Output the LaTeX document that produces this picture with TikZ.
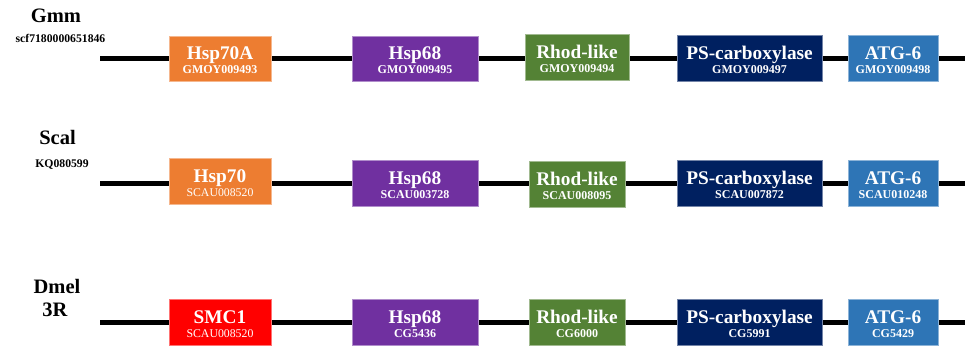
\documentclass[tikz,border=0pt]{standalone}
\usepackage{fontspec}
\setmainfont{Liberation Serif}
\definecolor{gorange}{HTML}{ED7D31}
\definecolor{gpurple}{HTML}{7030A0}
\definecolor{ggreen}{HTML}{548235}
\definecolor{gnavy}{HTML}{002060}
\definecolor{gblue}{HTML}{2E75B6}
\definecolor{gred}{HTML}{FF0000}
\tikzset{
  geneline/.style={line width=5pt, black},
  genebox/.style={rectangle, inner sep=0pt, line width=0.8pt},
  genetitle/.style={anchor=base, text=white, inner sep=0pt, font=\fontsize{19.3}{19.3}\selectfont\bfseries},
  geneid/.style={anchor=base, text=white, inner sep=0pt, font=\fontsize{12}{12}\selectfont\bfseries},
  geneidreg/.style={anchor=base, text=white, inner sep=0pt, font=\fontsize{11.8}{11.8}\selectfont},
  species/.style={anchor=base, inner sep=0pt, font=\fontsize{20.5}{20.5}\selectfont\bfseries},
  locus/.style={anchor=base, inner sep=0pt, font=\fontsize{11.7}{11.7}\selectfont\bfseries},
}
% #1 name, #2 x1, #3 x2, #4 y1, #5 y2, #6 colour, #7 title, #8 id, #9 id style
\newcommand{\genebx}[9]{%
  \node[genebox, fill=#6, draw=#6!55!white,
        minimum width={(#3-#2)*1pt}, minimum height={(#5-#4)*1pt}]
        (#1) at ({(#2+#3)/2},{(#4+#5)/2}) {};
  \node[genetitle] (#1t) at ([yshift=-1pt]#1.center) {#7};
  \node[#9] (#1i) at ([yshift=-15pt]#1.center) {#8};
}
\begin{document}
\begin{tikzpicture}[x=1pt,y=-1pt]
\useasboundingbox (0,0) rectangle (969,346);
% chromosome lines
\coordinate (l1s) at (100,58.5); \coordinate (l1e) at (965,58.5);
\coordinate (l2s) at (100,183);  \coordinate (l2e) at (965,183);
\coordinate (l3s) at (100,322);  \coordinate (l3e) at (965,322);
\draw[geneline] (l1s) -- (l1e);
\draw[geneline] (l2s) -- (l2e);
\draw[geneline] (l3s) -- (l3e);
% labels
\node[species] (gmm) at (56,22.5) {Gmm};
\node[locus] (scf) at (60.5,42) {scf7180000651846};
\node[species] (scal) at (57.5,144) {Scal};
\node[locus] (kq) at (62,167.5) {KQ080599};
\node[species] (dmel) at (57,293) {Dmel};
\node[species] (r3) at (55,316) {3R};
% row 1
\genebx{a1}{169}{271}{36}{81}{gorange}{Hsp70A}{GMOY009493}{geneid}
\genebx{a2}{352}{478}{36}{81}{gpurple}{Hsp68}{GMOY009495}{geneid}
\genebx{a3}{525}{629}{34}{80}{ggreen}{Rhod-like}{GMOY009494}{geneid}
\genebx{a4}{677}{822}{35}{81}{gnavy}{PS-carboxylase}{GMOY009497}{geneid}
\genebx{a5}{848}{938}{35}{81}{gblue}{ATG-6}{GMOY009498}{geneid}
% row 2
\genebx{b1}{169}{271}{158}{204}{gorange}{Hsp70}{SCAU008520}{geneidreg}
\genebx{b2}{352}{478}{160}{206}{gpurple}{Hsp68}{SCAU003728}{geneid}
\genebx{b3}{529}{625}{161}{207}{ggreen}{Rhod-like}{SCAU008095}{geneid}
\genebx{b4}{677}{822}{160}{206}{gnavy}{PS-carboxylase}{SCAU007872}{geneid}
\genebx{b5}{848}{938}{160}{206}{gblue}{ATG-6}{SCAU010248}{geneid}
% row 3
\genebx{c1}{169}{271}{299}{345}{gred}{SMC1}{SCAU008520}{geneidreg}
\genebx{c2}{352}{478}{299}{345}{gpurple}{Hsp68}{CG5436}{geneid}
\genebx{c3}{529}{625}{299}{345}{ggreen}{Rhod-like}{CG6000}{geneid}
\genebx{c4}{677}{822}{299}{345}{gnavy}{PS-carboxylase}{CG5991}{geneid}
\genebx{c5}{848}{938}{299}{345}{gblue}{ATG-6}{CG5429}{geneid}
\end{tikzpicture}
\end{document}
